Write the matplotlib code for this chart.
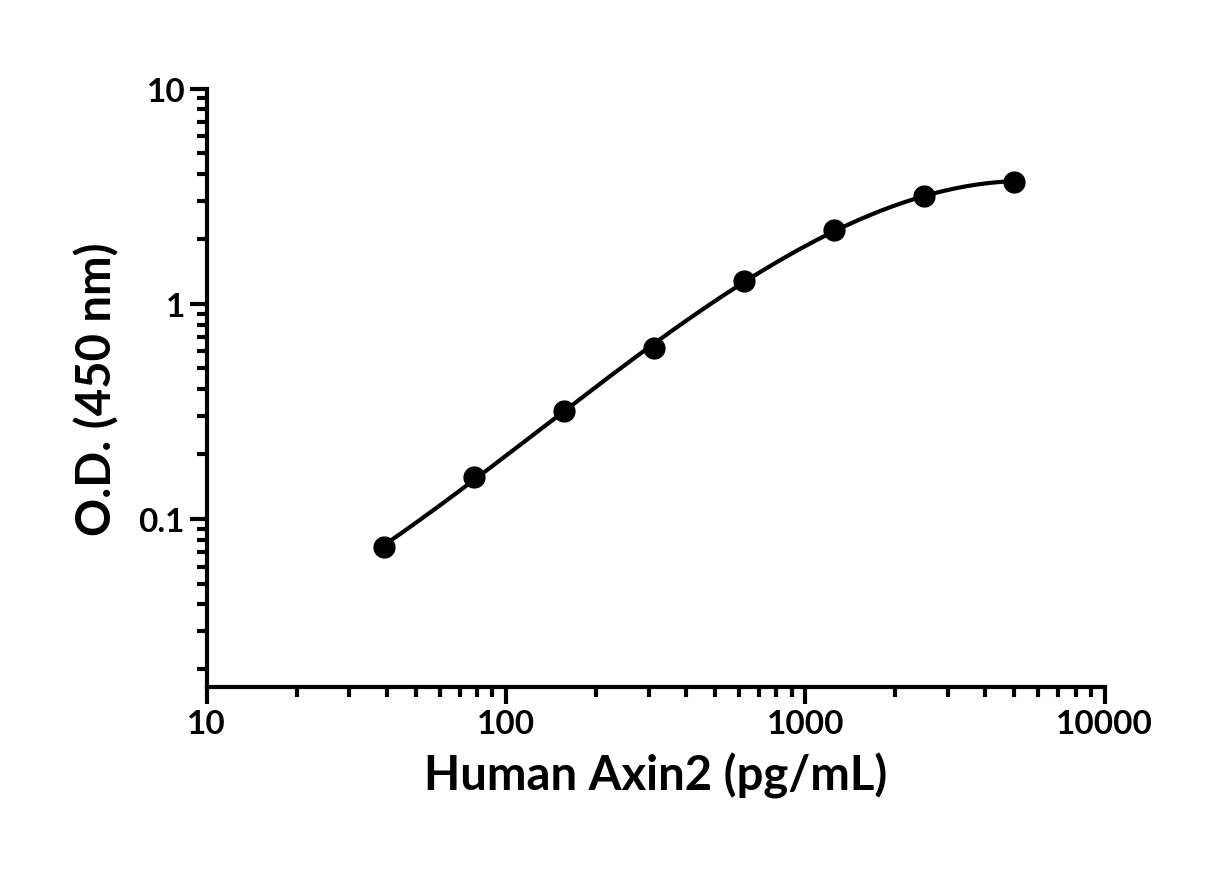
import numpy as np
import matplotlib
matplotlib.use("Agg")
import matplotlib.pyplot as plt
from matplotlib.ticker import LogLocator, NullFormatter, FixedLocator, FixedFormatter

conc = [39.06, 78.13, 156.25, 312.5, 625, 1250, 2500, 5000]
od = [0.074, 0.157, 0.318, 0.624, 1.27, 2.21, 3.18, 3.69]

plt.rcParams['font.family'] = ['Lato', 'DejaVu Sans']
fig = plt.figure(figsize=(12.3, 8.7), dpi=100)
ax = fig.add_axes([0.168, 0.209, 0.730, 0.688])

lx, ly = np.log10(conc), np.log10(od)
coef = np.polyfit(lx, ly, 3)
xs = np.linspace(lx[0], lx[-1], 300)
ax.plot(10**xs, 10**np.polyval(coef, xs), color='black', lw=3, zorder=2)
ax.plot(conc, od, 'o', color='black', ms=15, zorder=3)

ax.set_xscale('log'); ax.set_yscale('log')
ax.set_xlim(10, 10000); ax.set_ylim(0.0165, 10)
for s in ['top', 'right']:
    ax.spines[s].set_visible(False)
for s in ['left', 'bottom']:
    ax.spines[s].set_linewidth(3)
ax.xaxis.set_major_locator(FixedLocator([10, 100, 1000, 10000]))
ax.xaxis.set_major_formatter(FixedFormatter(['10', '100', '1000', '10000']))
ax.yaxis.set_major_locator(FixedLocator([0.1, 1, 10]))
ax.yaxis.set_major_formatter(FixedFormatter(['0.1', '1', '10']))
ax.xaxis.set_minor_locator(LogLocator(subs=np.arange(2, 10), numticks=20))
ax.yaxis.set_minor_locator(LogLocator(subs=np.arange(2, 10), numticks=20))
ax.xaxis.set_minor_formatter(NullFormatter()); ax.yaxis.set_minor_formatter(NullFormatter())
ax.tick_params(which='major', length=12, width=3, labelsize=24)
ax.tick_params(which='minor', length=7, width=3)
for t in ax.get_xticklabels() + ax.get_yticklabels():
    t.set_fontweight('bold')
ax.set_xlabel('Human Axin2 (pg/mL)', fontsize=34, fontweight='bold', labelpad=10)
ax.set_ylabel('O.D. (450 nm)', fontsize=34, fontweight='bold', labelpad=14)
fig.savefig('out.png', dpi=100)
